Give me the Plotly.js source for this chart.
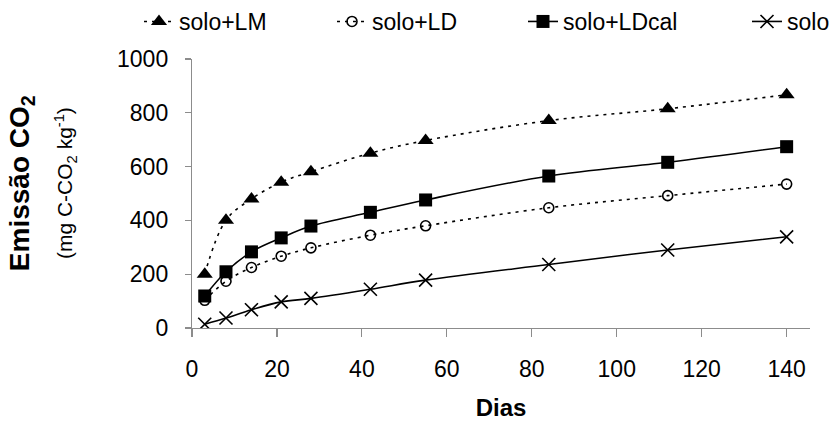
<!DOCTYPE html>
<html>
<head>
<meta charset="utf-8">
<script src="https://cdn.plot.ly/plotly-3.0.1.min.js"></script>
<style>html,body{margin:0;padding:0;background:#fff}#chart{width:835px;height:424px}</style>
</head>
<body>
<div id="chart"></div>
<script>
const dias = [3, 8, 14, 21, 28, 42, 55, 84, 112, 140];
const soloLM = [200, 401, 480, 542, 581, 650, 697, 771, 815, 867];
const soloLD = [103, 174, 225, 267, 298, 345, 380, 447, 492, 535];
const soloLDcal = [119, 209, 283, 335, 379, 430, 476, 565, 616, 674];
const solo = [14, 37, 68, 97, 110, 144, 178, 236, 290, 339];
const seriesNames = ["solo+LM", "solo+LD", "solo+LDcal", "solo"];
const xTicks = [0, 20, 40, 60, 80, 100, 120, 140];
const yTicks = [0, 200, 400, 600, 800, 1000];

const FONT = "Liberation Sans, Arial, sans-serif";
const dotted = "3px,5px";

const traces = [
  {x: dias, y: soloLM, name: seriesNames[0], mode: "lines+markers", legend: "legend",
   line: {color: "#000", width: 1.6, dash: dotted, shape: "spline", smoothing: 1},
   marker: {symbol: "triangle-up", size: 14, color: "#000"}},
  {x: dias, y: soloLD, name: seriesNames[1], mode: "lines+markers", legend: "legend2",
   line: {color: "#000", width: 1.6, dash: dotted, shape: "spline", smoothing: 1},
   marker: {symbol: "circle-open", size: 10, color: "#000", line: {width: 1.6, color: "#000"}}},
  {x: dias, y: soloLDcal, name: seriesNames[2], mode: "lines+markers", legend: "legend3",
   line: {color: "#000", width: 1.6, shape: "spline", smoothing: 1},
   marker: {symbol: "square", size: 13, color: "#000"}},
  {x: dias, y: solo, name: seriesNames[3], mode: "lines+markers", legend: "legend4",
   line: {color: "#000", width: 1.6, shape: "spline", smoothing: 1},
   marker: {symbol: "x-thin-open", size: 13, color: "#000", line: {width: 1.6, color: "#000"}}}
];

function leg(px) {
  return {orientation: "h", x: px / 835, xanchor: "left", y: 1, yanchor: "top",
          xref: "container", yref: "container",
          font: {family: FONT, size: 23, color: "#000"}, bgcolor: "rgba(0,0,0,0)"};
}

const layout = {
  width: 835, height: 424,
  margin: {l: 192, r: 25, t: 59, b: 96},
  paper_bgcolor: "#fff", plot_bgcolor: "#fff",
  font: {family: FONT, size: 23, color: "#000"},
  showlegend: true,
  legend: leg(139), legend2: leg(332), legend3: leg(523), legend4: leg(747),
  xaxis: {range: [0, 145.5], tickvals: xTicks, ticktext: xTicks.map(String),
          showgrid: false, zeroline: false, showline: true, linecolor: "#8c8c8c", linewidth: 1.2,
          ticks: "outside", ticklen: 8, tickcolor: "#8c8c8c", tickwidth: 1.2, ticklabelstandoff: 12,
          tickfont: {family: FONT, size: 23, color: "#000"},
          title: {text: "<b>Dias</b>", font: {family: FONT, size: 24, color: "#000"}, standoff: 18}},
  yaxis: {range: [0, 1000], tickvals: yTicks, ticktext: yTicks.map(String),
          showgrid: false, zeroline: false, showline: true, linecolor: "#8c8c8c", linewidth: 1.2,
          ticks: "outside", ticklen: 6, tickcolor: "#8c8c8c", tickwidth: 1.2, ticklabelstandoff: 12,
          tickfont: {family: FONT, size: 23, color: "#000"}},
  annotations: [
    {text: "<b>Emissão CO<sub>2</sub></b>", textangle: -90, xref: "paper", yref: "paper",
     x: -0.276, y: 0.54, xanchor: "center", yanchor: "middle", showarrow: false,
     font: {family: FONT, size: 28, color: "#000"}},
    {text: "(mg C-CO<sub>2</sub> kg<sup>-1</sup>)", textangle: -90, xref: "paper", yref: "paper",
     x: -0.205, y: 0.54, xanchor: "center", yanchor: "middle", showarrow: false,
     font: {family: FONT, size: 21, color: "#000"}}
  ]
};

Plotly.newPlot("chart", traces, layout, {displayModeBar: false, staticPlot: true});
</script>
</body>
</html>
